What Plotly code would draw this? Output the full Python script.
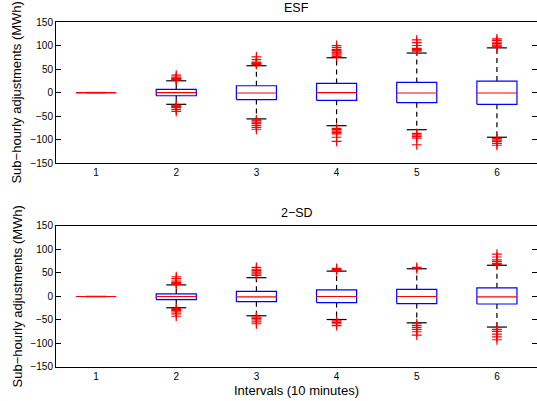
import plotly.graph_objects as go

categories = [1, 2, 3, 4, 5, 6]
tick_labels = ["1", "2", "3", "4", "5", "6"]

# ESF (top panel)
esf_q1 = [0, -6.8, -15, -16.5, -21.5, -25]
esf_median = [0, 0, -1, 0, -1, -1]
esf_q3 = [0, 6.8, 14.5, 19.5, 21.5, 24.5]
esf_low = [0, -25, -56, -70.5, -79, -95]
esf_high = [0, 25, 57, 74, 84, 95]
esf_out = [
    [],
    [27, 28, 29, 30, 33, 37, -27, -29, -30, -32, -36, -40],
    [60, 62, 63, 65, 70, 76, -58, -60, -63, -66, -70, -74, -78],
    [77, 80, 84, 86, 89, 92, 96, 100, -76, -79, -82, -85, -88, -95, -104],
    [88, 90, 92, 94, 100, 106, 112, -87, -90, -93, -97, -111],
    [97, 99, 101, 104, 107, 111, 114, -98, -101, -104, -108, -112],
]

# 2-SD (bottom panel)
sd_q1 = [0, -6.5, -11, -13, -15, -16]
sd_median = [0, 0, -1, 0, 0, -1]
sd_q3 = [0, 5.5, 11, 14, 15, 18.5]
sd_low = [0, -24, -41, -49, -56, -65]
sd_high = [0, 24.7, 40, 54, 59, 66.5]
sd_out = [
    [],
    [26, 28, 30, 33, 38, 42, -26, -28, -30, -33, -37, -42],
    [45, 48, 52, 55, 58, 62, -44, -47, -50, -54, -58],
    [55, 57, 60, -52, -55, -58, -62],
    [59, 62, -58, -62, -66, -70, -75, -82],
    [68, 70, 74, 78, 84, 90, -66, -70, -74, -80, -86, -92],
]

BOX_HALF = 0.25
CAP_HALF = 0.125
BLUE = "rgb(0,0,255)"
RED = "rgb(255,0,0)"
FONT = "Liberation Sans, Arial, Helvetica, sans-serif"
LW = 1.2

fig = go.Figure()


def add_panel(q1, med, q3, lo, hi, outs, xa, ya):
    wx, wy, cx, cy, bx, by, mx, my, ox, oy = [], [], [], [], [], [], [], [], [], []
    for i, c in enumerate(categories):
        wx += [c, c, None, c, c, None]
        wy += [q3[i], hi[i], None, q1[i], lo[i], None]
        cx += [c - CAP_HALF, c + CAP_HALF, None, c - CAP_HALF, c + CAP_HALF, None]
        cy += [hi[i], hi[i], None, lo[i], lo[i], None]
        bx += [c - BOX_HALF, c + BOX_HALF, c + BOX_HALF, c - BOX_HALF, c - BOX_HALF, None]
        by += [q1[i], q1[i], q3[i], q3[i], q1[i], None]
        mx += [c - BOX_HALF, c + BOX_HALF, None]
        my += [med[i], med[i], None]
        for v in outs[i]:
            ox.append(c)
            oy.append(v)
    common = dict(xaxis=xa, yaxis=ya, showlegend=False, hoverinfo="skip")
    fig.add_trace(go.Scatter(x=wx, y=wy, mode="lines",
                             line=dict(color="black", width=LW, dash="5px,4px"), **common))
    fig.add_trace(go.Scatter(x=cx, y=cy, mode="lines",
                             line=dict(color="black", width=LW), **common))
    fig.add_trace(go.Scatter(x=bx, y=by, mode="lines",
                             line=dict(color=BLUE, width=LW), **common))
    fig.add_trace(go.Scatter(x=mx, y=my, mode="lines",
                             line=dict(color=RED, width=LW), **common))
    fig.add_trace(go.Scatter(x=ox, y=oy, mode="markers",
                             marker=dict(symbol="cross-thin", size=7,
                                         line=dict(color=RED, width=LW), color=RED),
                             **common))


add_panel(esf_q1, esf_median, esf_q3, esf_low, esf_high, esf_out, "x", "y")
add_panel(sd_q1, sd_median, sd_q3, sd_low, sd_high, sd_out, "x2", "y2")

xax = dict(range=[0.5, 6.5], tickmode="array", tickvals=categories, ticktext=tick_labels,
           showline=True, linecolor="black", linewidth=1, mirror=True, ticks="",
           showgrid=False, zeroline=False, automargin=False,
           tickfont=dict(size=10, color="black", family=FONT))
yax = dict(range=[-150, 150], tickvals=[-150, -100, -50, 0, 50, 100, 150],
           showline=True, linecolor="black", linewidth=1, mirror="ticks", ticks="inside",
           ticklen=5, tickcolor="black", showgrid=False, zeroline=False, automargin=False,
           tickfont=dict(size=10, color="black", family=FONT))

TOP_LO = 0.591
BOT_HI = 0.4087
tfont = dict(size=12.5, color="black", family=FONT)
afont = dict(size=13, color="black", family=FONT)

fig.update_layout(
    width=537, height=401,
    margin=dict(l=56, r=0, t=22, b=34, autoexpand=False),
    paper_bgcolor="white", plot_bgcolor="white",
    xaxis=dict(domain=[0, 1], anchor="y", **xax),
    yaxis=dict(domain=[TOP_LO, 1], anchor="x", **yax),
    xaxis2=dict(domain=[0, 1], anchor="y2", **xax),
    yaxis2=dict(domain=[0, BOT_HI], anchor="x2", **yax),
    annotations=[
        dict(text="ESF", x=0.5, y=1, xref="paper", yref="paper", yanchor="middle",
             yshift=14, showarrow=False, font=tfont),
        dict(text="2\u2212SD", x=0.5, y=BOT_HI, xref="paper", yref="paper", yanchor="middle",
             yshift=13, showarrow=False, font=tfont),
        dict(text="Intervals (10 minutes)", x=0.5, y=0, xref="paper", yref="paper",
             yanchor="middle", yshift=-23, showarrow=False, font=afont),
        dict(text="Sub\u2212hourly adjustments (MWh)", x=0, y=(TOP_LO + 1) / 2,
             xref="paper", yref="paper", xanchor="center", yanchor="middle",
             xshift=-39, textangle=-90, showarrow=False, font=afont),
        dict(text="Sub\u2212hourly adjustments (MWh)", x=0, y=BOT_HI / 2,
             xref="paper", yref="paper", xanchor="center", yanchor="middle",
             xshift=-39, textangle=-90, showarrow=False, font=afont),
    ],
)

# remove the browser's default page margin so the figure fills the window exactly
fig.write_html("out.html", config={"displayModeBar": False},
               post_script="document.body.style.margin='0';document.body.style.overflow='hidden';")
